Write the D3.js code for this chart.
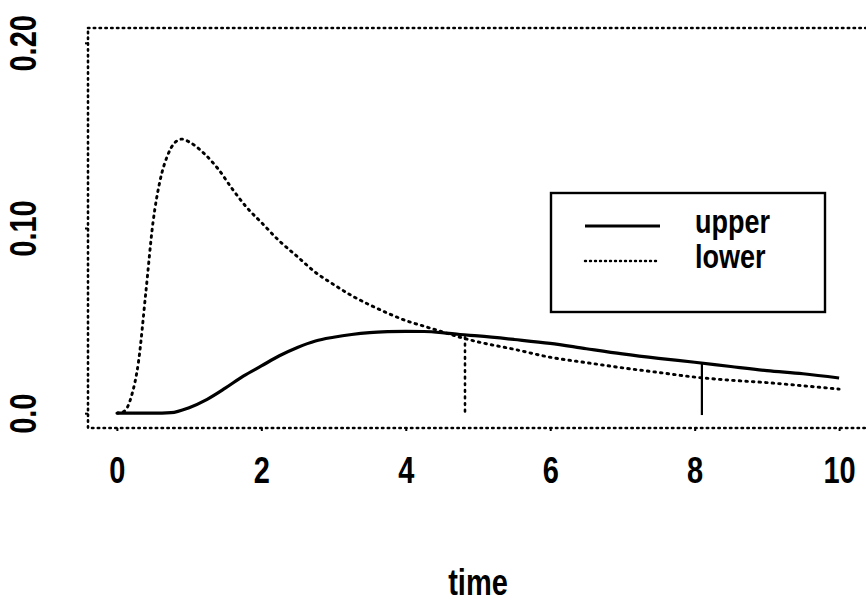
<!DOCTYPE html>
<html>
<head>
<meta charset="utf-8">
<script src="https://cdn.jsdelivr.net/npm/d3@7"></script>
<style>
  html, body { margin: 0; padding: 0; background: #fff; }
  svg { display: block; }
  text { font-family: "Liberation Sans", Arial, Helvetica, sans-serif; font-weight: bold; fill: #000; }
</style>
</head>
<body>
<svg id="chart" width="866" height="608"></svg>
<script>
// Time grid and the two curves
const upperTime = [0, 0.5, 0.75, 1.0, 1.25, 1.5, 1.75, 2.0, 2.25, 2.5, 2.75, 3.0, 3.25, 3.5, 3.75, 4.0, 4.25, 4.5, 4.75, 5.0, 5.5, 6.0, 6.5, 7.0, 7.5, 8.0, 8.5, 9.0, 9.5, 10.0];
const upperValues = [0, 0, 0.0003, 0.003, 0.0075, 0.0135, 0.020, 0.0255, 0.031, 0.0355, 0.039, 0.041, 0.0425, 0.0435, 0.044, 0.0442, 0.0441, 0.0435, 0.0425, 0.0417, 0.0398, 0.0377, 0.0348, 0.0320, 0.0296, 0.0275, 0.0252, 0.0230, 0.0213, 0.0190];

const lowerTime = [0, 0.1, 0.2, 0.3, 0.4, 0.5, 0.6, 0.7, 0.8, 0.9, 1.0, 1.2, 1.4, 1.6, 1.8, 2.0, 2.25, 2.5, 2.75, 3.0, 3.25, 3.5, 3.75, 4.0, 4.25, 4.5, 4.75, 5.0, 5.5, 6.0, 6.5, 7.0, 7.5, 8.0, 8.5, 9.0, 9.5, 10.0];
const lowerValues = [0, 0.001, 0.009, 0.028, 0.065, 0.103, 0.126, 0.139, 0.146, 0.148, 0.1465, 0.1405, 0.132, 0.121, 0.111, 0.103, 0.093, 0.0845, 0.076, 0.0695, 0.0635, 0.0585, 0.054, 0.050, 0.047, 0.044, 0.041, 0.0385, 0.0345, 0.0302, 0.0273, 0.0245, 0.022, 0.0195, 0.0178, 0.0165, 0.0148, 0.013];

// Vertical marker segments dropped to zero
const markerTime = [4.82, 8.1];
const markerTop = [0.041, 0.027];
const markerStyle = ["dotted", "solid"];

// Axis ticks and labels
const xTicks = [0, 2, 4, 6, 8, 10];
const yTicks = [0, 0.1, 0.2];
const yTickLabels = ["0.0", "0.10", "0.20"];

const legendLabels = ["upper", "lower"];
const axisTitle = "time";

const svg = d3.select("#chart");

// Plot region (with 4% padding on each data range)
const x = d3.scaleLinear().domain([-0.4, 10.4]).range([88, 868]);
const y = d3.scaleLinear().domain([-0.008, 0.208]).range([428, 28]);

const dotted = "1.6,5";
const fontSize = "29px";
const textStretch = "scale(1,1.28)";

// Dotted frame around the plot region
svg.append("rect")
  .attr("x", x(-0.4)).attr("y", y(0.208))
  .attr("width", x(10.4) - x(-0.4)).attr("height", y(-0.008) - y(0.208))
  .attr("fill", "none").attr("stroke", "#000")
  .attr("stroke-width", 2.6).attr("stroke-linecap", "round")
  .attr("stroke-dasharray", "1.4,4.4");

// Bottom axis
const gx = svg.append("g").attr("transform", `translate(0,${y(-0.008)})`)
  .call(d3.axisBottom(x).tickValues(xTicks).tickSize(3).tickFormat(d3.format("d")));
gx.select(".domain").remove();
gx.selectAll(".tick line").attr("stroke", "#000").attr("stroke-width", 2);
gx.selectAll(".tick text")
  .attr("y", 0).attr("dy", 0)
  .attr("transform", `translate(0,55) ${textStretch}`)
  .style("font-size", fontSize).style("font-family", "'Liberation Sans', Arial, sans-serif").style("font-weight", "bold");

// Left axis with rotated labels
const gy = svg.append("g").attr("transform", `translate(${x(-0.4)},0)`)
  .call(d3.axisLeft(y).tickValues(yTicks).tickSize(3).tickFormat((d, i) => yTickLabels[i]));
gy.select(".domain").remove();
gy.selectAll(".tick line").attr("stroke", "#000").attr("stroke-width", 2);
gy.selectAll(".tick text")
  .attr("x", 0).attr("dy", "0.36em")
  .attr("text-anchor", "middle")
  .attr("transform", `translate(-65,0) rotate(-90) ${textStretch}`)
  .style("font-size", fontSize).style("font-family", "'Liberation Sans', Arial, sans-serif").style("font-weight", "bold");

// Axis title
svg.append("text")
  .attr("transform", `translate(${(x(-0.4) + x(10.4)) / 2},595) ${textStretch}`)
  .attr("text-anchor", "middle")
  .style("font-size", fontSize)
  .text(axisTitle);

const line = d3.line().x(d => x(d[0])).y(d => y(d[1])).curve(d3.curveMonotoneX);

// Upper curve (solid)
svg.append("path")
  .datum(upperTime.map((t, i) => [t, upperValues[i]]))
  .attr("d", line)
  .attr("fill", "none").attr("stroke", "#000")
  .attr("stroke-width", 3.2).attr("stroke-linejoin", "round");

// Lower curve (dotted)
svg.append("path")
  .datum(lowerTime.map((t, i) => [t, lowerValues[i]]))
  .attr("d", line)
  .attr("fill", "none").attr("stroke", "#000")
  .attr("stroke-width", 2.9).attr("stroke-linecap", "round")
  .attr("stroke-dasharray", dotted);

// Vertical markers
svg.selectAll("line.marker")
  .data(markerTime.map((t, i) => ({ t, top: markerTop[i], style: markerStyle[i] })))
  .join("line")
  .attr("class", "marker")
  .attr("x1", d => x(d.t)).attr("x2", d => x(d.t))
  .attr("y1", d => y(d.top)).attr("y2", y(-0.001))
  .attr("stroke", "#000")
  .attr("stroke-width", d => d.style === "solid" ? 2.2 : 2.6)
  .attr("stroke-linecap", d => d.style === "solid" ? "butt" : "round")
  .attr("stroke-dasharray", d => d.style === "solid" ? null : dotted);

// Legend
const legend = svg.append("g");
legend.append("rect")
  .attr("x", 551).attr("y", 193).attr("width", 274).attr("height", 119)
  .attr("fill", "#fff").attr("stroke", "#000").attr("stroke-width", 2.4);
legendLabels.forEach((label, i) => {
  const cy = 226 + i * 35;
  legend.append("line")
    .attr("x1", 585).attr("x2", 660).attr("y1", cy).attr("y2", cy)
    .attr("stroke", "#000")
    .attr("stroke-width", i === 0 ? 3 : 2.4)
    .attr("stroke-linecap", i === 0 ? "butt" : "round")
    .attr("stroke-dasharray", i === 0 ? null : "1,4");
  legend.append("text")
    .attr("transform", `translate(695,${cy + 7}) scale(1,1.25)`)
    .style("font-size", "27px")
    .text(label);
});
</script>
</body>
</html>
